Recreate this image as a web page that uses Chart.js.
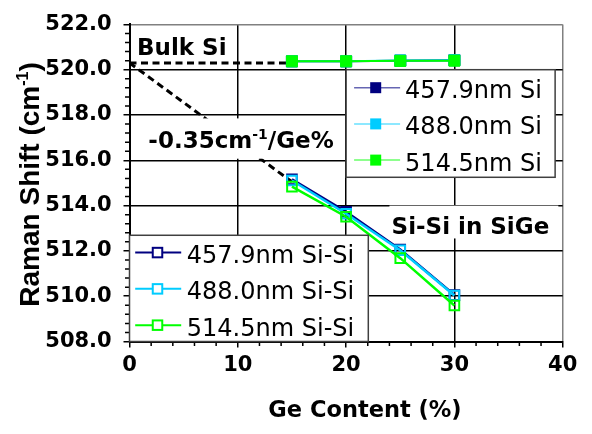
<!DOCTYPE html>
<html>
<head>
<meta charset="utf-8">
<script src="https://cdn.jsdelivr.net/npm/chart.js@4/dist/chart.umd.min.js"></script>
<style>
  html, body { margin: 0; padding: 0; background: #fff; }
  #wrap { width: 592px; height: 434px; }
</style>
</head>
<body>
<div id="wrap"><canvas id="c" width="592" height="434"></canvas></div>
<script>
// Ge content of the SiGe layers (%)
const geContent = [15, 20, 25, 30];

// Si peak of the bulk Si substrate (cm^-1), per excitation wavelength
const si4579 = [520.37, 520.37, 520.40, 520.42];
const si4880 = [520.37, 520.37, 520.41, 520.42];
const si5145 = [520.37, 520.37, 520.39, 520.40];

// Si-Si mode in the SiGe layer (cm^-1), per excitation wavelength
const siSi4579 = [515.16, 513.73, 512.06, 510.05];
const siSi4880 = [515.11, 513.64, 512.03, 510.03];
const siSi5145 = [514.84, 513.51, 511.68, 509.59];

// Reference line: bulk Si position and the -0.35 cm^-1 per Ge% slope
const bulkSiShift = 520.3;
const shiftPerGe = -0.35;
const fitRange = [0, 15];

// Axis ticks
const xTicks = [0, 10, 20, 30, 40];
const yTicks = [508, 510, 512, 514, 516, 518, 520, 522];

const NAVY = '#000080', CYAN = '#00CCFF', GREEN = '#00FF00';

const pts = (xs, ys) => xs.map((x, i) => ({ x, y: ys[i] }));

function filledSeries(label, color, values, order) {
  return {
    label, data: pts(geContent, values), group: 'si',
    borderColor: color, backgroundColor: color,
    pointStyle: 'rect', pointRadius: 7.8, pointHoverRadius: 7.8,
    pointBackgroundColor: color, pointBorderColor: color, pointBorderWidth: 1,
    borderWidth: 2, order
  };
}
function openSeries(label, color, values, order) {
  return {
    label, data: pts(geContent, values), group: 'sisi',
    borderColor: color, backgroundColor: color,
    pointStyle: 'rect', pointRadius: 6.8, pointHoverRadius: 6.8,
    pointBackgroundColor: 'rgba(255,255,255,0)', pointBorderColor: color, pointBorderWidth: 2,
    borderWidth: 2.5, order
  };
}
function dashedLine(label, data) {
  return {
    label, data, group: 'guide',
    borderColor: '#000', borderWidth: 3, borderDash: [7, 4.5],
    pointRadius: 0, pointHoverRadius: 0, order: 20
  };
}

const datasets = [
  dashedLine('Bulk Si', [
    { x: fitRange[0], y: bulkSiShift },
    { x: fitRange[1], y: bulkSiShift }
  ]),
  dashedLine('Slope', [
    { x: fitRange[0], y: bulkSiShift },
    { x: fitRange[1], y: bulkSiShift + shiftPerGe * (fitRange[1] - fitRange[0]) }
  ]),
  filledSeries('457.9nm Si', NAVY, si4579, 8),
  filledSeries('488.0nm Si', CYAN, si4880, 7),
  filledSeries('514.5nm Si', GREEN, si5145, 6),
  openSeries('457.9nm Si-Si', NAVY, siSi4579, 5),
  openSeries('488.0nm Si-Si', CYAN, siSi4880, 4),
  openSeries('514.5nm Si-Si', GREEN, siSi5145, 3)
];

const FAMILY = '"DejaVu Sans", sans-serif';
Chart.defaults.font.family = FAMILY;
Chart.defaults.color = '#000';

// Value-space boxes for the text labels and the two legends
const labelBoxes = {
  bulk:  { x0: 0.4,  x1: 9.3,  y0: 520.5,  y1: 521.6 },
  slope: { x0: 1.25, x1: 19.3, y0: 516.07, y1: 517.85 },
  sisi:  { x0: 24.0, x1: 39.6, y0: 512.55, y1: 514.0 }
};
const legendBoxes = {
  si:   { x0: 20.0, x1: 39.3,  y0: 515.25, y1: 520.0 },
  sisi: { x0: 0,    x1: 22.05, y0: 508,    y1: 512.69 }
};

function boxPx(chart, b) {
  const sx = chart.scales.x, sy = chart.scales.y;
  const left = sx.getPixelForValue(b.x0), right = sx.getPixelForValue(b.x1);
  const top = sy.getPixelForValue(b.y1), bottom = sy.getPixelForValue(b.y0);
  return { left, right, top, bottom, w: right - left, h: bottom - top };
}

// Draws a run of text pieces; superscript pieces are smaller and raised
function drawRuns(ctx, runs, x, y) {
  let cx = x;
  runs.forEach(r => {
    ctx.font = r.font;
    ctx.fillText(r.text, cx, y - (r.rise || 0));
    cx += ctx.measureText(r.text).width;
  });
  return cx;
}

function drawLegend(ctx, chart, box, group, layout) {
  const p = boxPx(chart, box);
  ctx.save();
  ctx.fillStyle = '#fff';
  ctx.fillRect(p.left, p.top, p.w, p.h);
  ctx.strokeStyle = '#404040';
  ctx.lineWidth = 1.5;
  ctx.strokeRect(p.left, p.top, p.w, p.h);
  const items = chart.data.datasets.filter(d => d.group === group);
  items.forEach((ds, i) => {
    const cy = p.top + layout.firstRow + i * layout.rowH;
    ctx.save();
    ctx.globalAlpha = layout.lineAlpha;
    ctx.strokeStyle = ds.borderColor;
    ctx.lineWidth = layout.lineW;
    ctx.beginPath();
    ctx.moveTo(p.left + layout.lineX0, cy);
    ctx.lineTo(p.left + layout.lineX1, cy);
    ctx.stroke();
    ctx.restore();
    const mx = p.left + layout.markX, s = layout.markSize;
    if (layout.filled) {
      ctx.fillStyle = ds.borderColor;
      ctx.fillRect(mx - s / 2, cy - s / 2, s, s);
    } else {
      ctx.fillStyle = '#fff';
      ctx.fillRect(mx - s / 2, cy - s / 2, s, s);
      ctx.strokeStyle = ds.borderColor;
      ctx.lineWidth = 2;
      ctx.strokeRect(mx - s / 2, cy - s / 2, s, s);
    }
    ctx.fillStyle = '#000';
    ctx.font = '24px ' + FAMILY;
    ctx.textBaseline = 'alphabetic';
    ctx.textAlign = 'left';
    ctx.fillText(ds.label, p.left + layout.textX, cy + 10.5);
  });
  ctx.restore();
}

const decor = {
  id: 'decor',
  beforeDatasetsDraw(chart) {
    // minor tick marks on both axes
    const { ctx, chartArea } = chart;
    const sx = chart.scales.x, sy = chart.scales.y;
    ctx.save();
    ctx.strokeStyle = '#000';
    ctx.lineWidth = 1.5;
    ctx.beginPath();
    for (let i = 0; i <= 35; i++) {
      if (i % 5 === 0) continue;
      const py = sy.getPixelForValue(508 + i * 0.4);
      ctx.moveTo(chartArea.left - 4.5, py);
      ctx.lineTo(chartArea.left, py);
    }
    for (let i = 0; i <= 20; i++) {
      if (i % 5 === 0) continue;
      const px = sx.getPixelForValue(i * 2);
      ctx.moveTo(px, chartArea.bottom);
      ctx.lineTo(px, chartArea.bottom + 4.5);
    }
    ctx.stroke();
    ctx.restore();
  },
  afterDatasetsDraw(chart) {
    const { ctx } = chart;
    const sx = chart.scales.x, sy = chart.scales.y;
    ctx.save();
    // white label boxes
    ctx.fillStyle = '#fff';
    Object.values(labelBoxes).forEach(b => {
      const p = boxPx(chart, b);
      ctx.fillRect(p.left, p.top, p.w, p.h);
    });
    ctx.fillStyle = '#000';
    ctx.textBaseline = 'alphabetic';
    ctx.textAlign = 'left';
    const bold = 'bold 23px ' + FAMILY;
    const supBold = 'bold 14px ' + FAMILY;
    drawRuns(ctx, [{ text: 'Bulk Si', font: bold }],
      sx.getPixelForValue(0.69), sy.getPixelForValue(520.65));
    drawRuns(ctx, [
      { text: '-0.35cm', font: bold },
      { text: '-1', font: supBold, rise: 9 },
      { text: '/Ge%', font: bold }
    ], sx.getPixelForValue(1.74), sy.getPixelForValue(516.53));
    drawRuns(ctx, [{ text: 'Si-Si in SiGe', font: bold }],
      sx.getPixelForValue(24.2), sy.getPixelForValue(512.76));
    ctx.restore();

    drawLegend(ctx, chart, legendBoxes.si, 'si', {
      firstRow: 18, rowH: 36.2, lineX0: 8, lineX1: 54, markX: 29.6, markSize: 11,
      textX: 59, lineW: 1.5, lineAlpha: 0.6, filled: true
    });
    drawLegend(ctx, chart, legendBoxes.sisi, 'sisi', {
      firstRow: 17.3, rowH: 36.3, lineX0: 5.7, lineX1: 51.7, markX: 28, markSize: 9.5,
      textX: 57.3, lineW: 2, lineAlpha: 1, filled: false
    });
  },
  afterDraw(chart) {
    const { ctx, chartArea } = chart;
    ctx.save();
    ctx.fillStyle = '#000';
    ctx.textBaseline = 'alphabetic';
    // y-axis title, rotated
    const titleFont = 'bold 28px "Liberation Sans", Arial, sans-serif';
    const supFont = 'bold 16px "Liberation Sans", Arial, sans-serif';
    const runs = [
      { text: 'Raman Shift (cm', font: titleFont },
      { text: '-1', font: supFont, rise: 11 },
      { text: ')', font: titleFont }
    ];
    let total = 0;
    runs.forEach(r => { ctx.font = r.font; total += ctx.measureText(r.text).width; });
    ctx.translate(39, (chartArea.top + chartArea.bottom) / 2 + 1.5);
    ctx.rotate(-Math.PI / 2);
    drawRuns(ctx, runs, -total / 2, 0);
    ctx.restore();

    // x-axis title
    ctx.save();
    ctx.fillStyle = '#000';
    ctx.font = 'bold 22.5px ' + FAMILY;
    ctx.textAlign = 'center';
    ctx.textBaseline = 'middle';
    ctx.fillText('Ge Content (%)', 365, 411);
    ctx.restore();
  }
};

new Chart(document.getElementById('c'), {
  type: 'line',
  data: { datasets },
  options: {
    responsive: false,
    animation: false,
    events: [],
    layout: { padding: { top: 13.5, right: 29.3, left: 0, bottom: 0 } },
    plugins: { legend: { display: false }, tooltip: { enabled: false } },
    scales: {
      x: {
        type: 'linear', min: 0, max: 40,
        afterBuildTicks: s => { s.ticks = xTicks.map(v => ({ value: v })); },
        afterFit: s => { s.height = 92.5; },
        ticks: {
          font: { size: 21, weight: 'bold' }, color: '#000',
          padding: 5.8, maxRotation: 0, autoSkip: false
        },
        grid: {
          color: c => (c.tick && c.tick.value === 40) ? '#808080' : '#000',
          lineWidth: 1.5, tickLength: 6, tickColor: '#000', tickWidth: 1.5
        },
        border: { color: '#000', width: 2 }
      },
      y: {
        type: 'linear', min: 508, max: 522,
        afterBuildTicks: s => { s.ticks = yTicks.map(v => ({ value: v })); },
        afterFit: s => { s.width = 129.5; },
        ticks: {
          font: { size: 21, weight: 'bold' }, color: '#000',
          padding: 11.8, autoSkip: false,
          callback: v => Number(v).toFixed(1)
        },
        grid: {
          color: c => (c.tick && c.tick.value === 522) ? '#808080' : '#000',
          lineWidth: 1.5, tickLength: 6, tickColor: '#000', tickWidth: 1.5
        },
        border: { color: '#000', width: 2 }
      }
    }
  },
  plugins: [decor]
});
</script>
</body>
</html>
